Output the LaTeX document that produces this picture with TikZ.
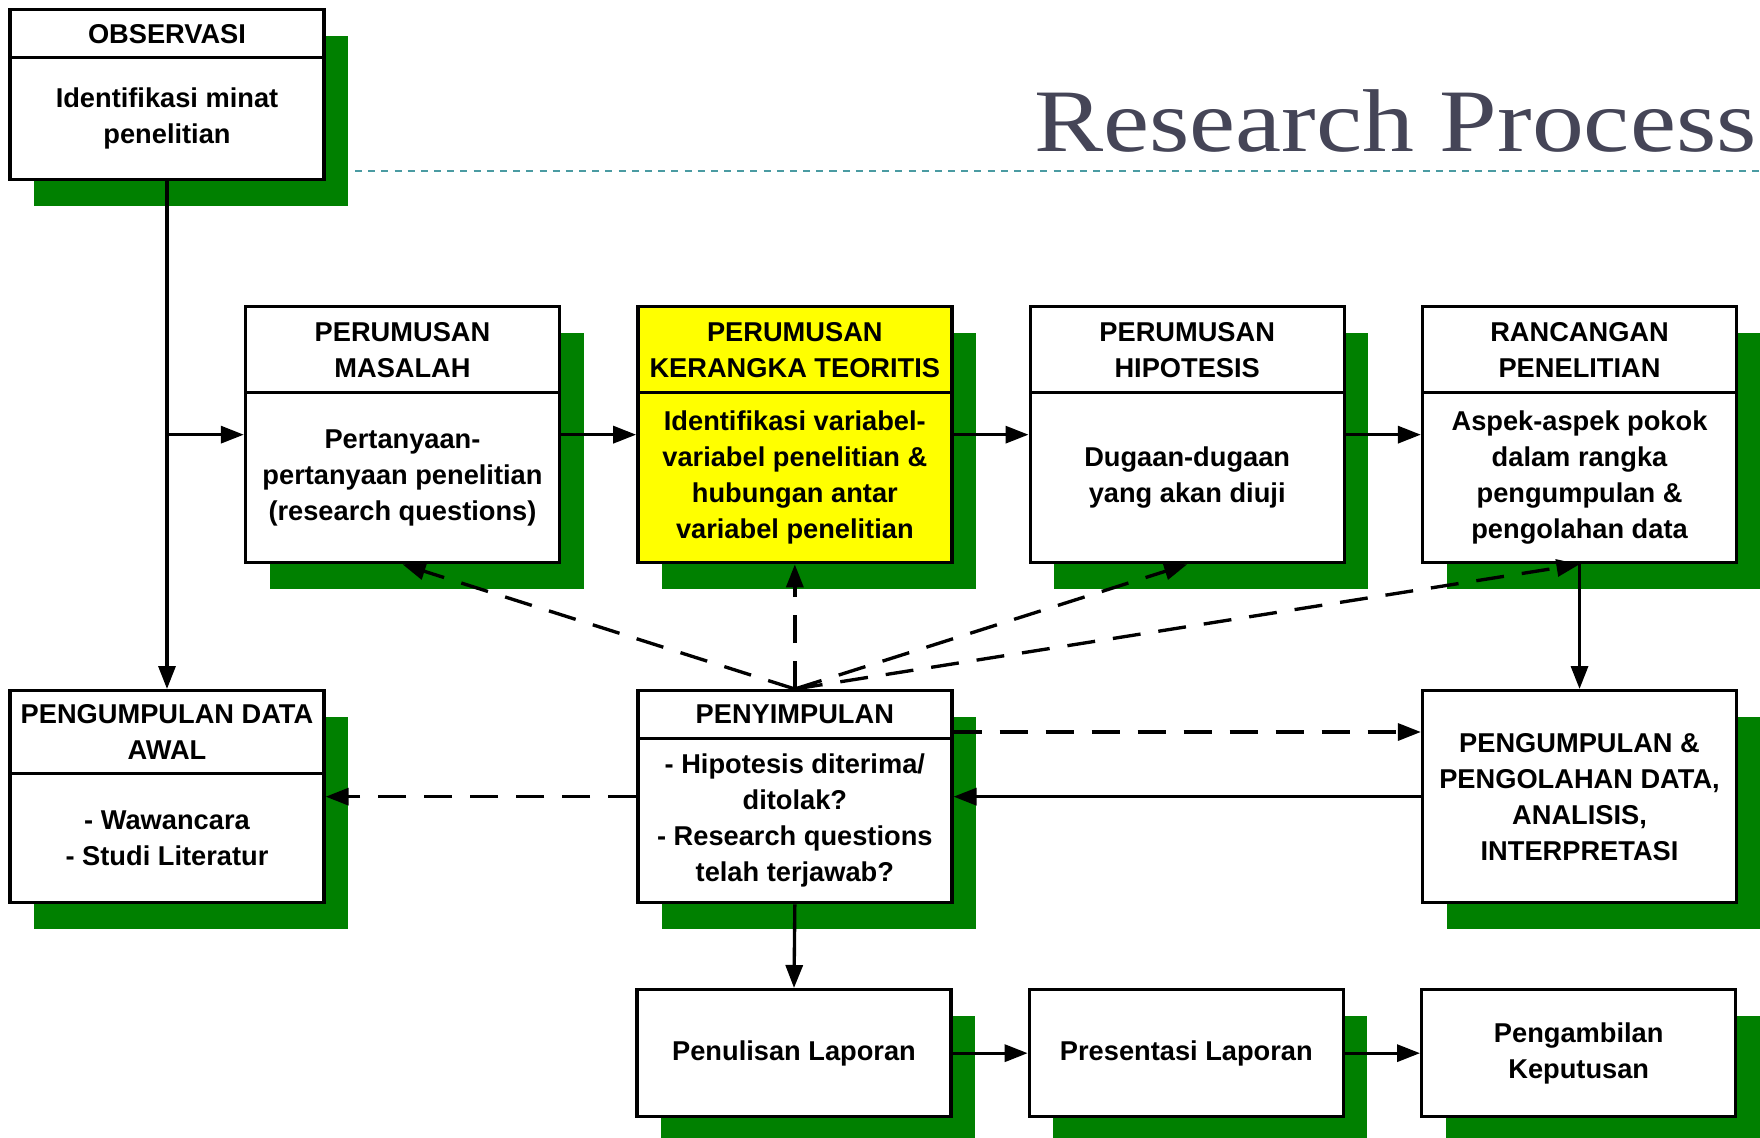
\documentclass[tikz,border=0pt]{standalone}
\usepackage{graphicx}
\usepackage{fontspec}
\setmainfont{Liberation Sans}
\newfontfamily\titlefont{Liberation Serif}
\usetikzlibrary{positioning, arrows.meta, shadows}
\definecolor{shade}{HTML}{008000}
\definecolor{hilite}{HTML}{FFFF00}
\definecolor{titleink}{HTML}{454557}
\definecolor{rulink}{HTML}{4A9BA2}
\tikzset{
  hdr/.style  = {rectangle, draw=black, line width=1.9pt, fill=white,
                 minimum width=6.28cm, inner sep=2pt, align=center,
                 font=\fontsize{15.5}{20.5}\selectfont\bfseries,
                 drop shadow={shadow xshift=0.48cm, shadow yshift=-0.52cm,
                              fill=shade, opacity=1}},
  bdy/.style  = {hdr, below=-1.9pt of #1},
  arr/.style  = {-{Triangle[length=0.46cm,width=0.34cm]}, line width=1.9pt},
  darr/.style = {arr, dash pattern=on 0.56cm off 0.36cm},
}

\begin{document}
\begin{tikzpicture}[node distance=0.5cm and 1.5cm]
  \useasboundingbox (0,0) rectangle (35.2,-22.76);

  % title
  \node[anchor=base east, inner sep=0pt, text=titleink,
        font=\titlefont\fontsize{59}{59}\selectfont] (ttl) at (35.14,-3.04)
        {\scalebox{1}[0.86]{Research Process}};
  \draw[rulink, line width=0.8pt, dash pattern=on 4pt off 3.5pt] (7.1,-3.42) -- (35.2,-3.42);

  % top left
  \node[hdr, minimum height=0.96cm, anchor=north] (obsh) at (3.34,-0.16) {OBSERVASI};
  \node[bdy=obsh, minimum height=2.44cm] (obsb) {Identifikasi minat\\penelitian};

  % second row
  \node[hdr, minimum height=1.72cm, anchor=north] (mslhh) at (8.05,-6.10) {PERUMUSAN\\MASALAH};
  \node[bdy=mslhh, minimum height=3.40cm] (mslhb) {Pertanyaan-\\pertanyaan penelitian\\(research questions)};
  \node[hdr, minimum height=1.72cm, fill=hilite, right=of mslhh] (kerh) {PERUMUSAN\\KERANGKA TEORITIS};
  \node[bdy=kerh, minimum height=3.40cm, fill=hilite] (kerb) {Identifikasi variabel-\\variabel penelitian \&\\hubungan antar\\variabel penelitian};
  \node[hdr, minimum height=1.72cm, right=of kerh] (hiph) {PERUMUSAN\\HIPOTESIS};
  \node[bdy=hiph, minimum height=3.40cm] (hipb) {Dugaan-dugaan\\yang akan diuji};
  \node[hdr, minimum height=1.72cm, right=of hiph] (ranch) {RANCANGAN\\PENELITIAN};
  \node[bdy=ranch, minimum height=3.40cm] (rancb) {Aspek-aspek pokok\\dalam rangka\\pengumpulan \&\\pengolahan data};

  % third row
  \node[hdr, minimum height=1.66cm, anchor=north] (awalh) at (3.34,-13.78) {PENGUMPULAN DATA\\AWAL};
  \node[bdy=awalh, minimum height=2.58cm] (awalb) {- Wawancara\\- Studi Literatur};
  \node[hdr, minimum height=0.96cm, anchor=north] (simph) at (kerh.south |- awalh.north) {PENYIMPULAN};
  \node[bdy=simph, minimum height=3.28cm] (simpb) {- Hipotesis diterima/\\ditolak?\\- Research questions\\telah terjawab?};
  \node[hdr, minimum height=4.24cm, anchor=north] (olah) at (ranch.south |- awalh.north) {PENGUMPULAN \&\\PENGOLAHAN DATA,\\ANALISIS,\\INTERPRETASI};

  % bottom row
  \node[hdr, minimum height=2.54cm, anchor=north] (tulis) at (15.88,-19.76) {Penulisan Laporan};
  \node[hdr, minimum height=2.54cm, right=of tulis] (saji) {Presentasi Laporan};
  \node[hdr, minimum height=2.54cm, right=of saji] (putus) {Pengambilan\\Keputusan};

  % solid flow
  \path ([yshift=0.86cm]mslhb.west) coordinate (lvl);
  \draw[arr] (obsb.south) -- (awalh.north);
  \draw[arr] (lvl -| obsb.south) -- (lvl);
  \draw[arr] (lvl -| mslhb.east) -- (lvl -| kerb.west);
  \draw[arr] (lvl -| kerb.east) -- (lvl -| hipb.west);
  \draw[arr] (lvl -| hipb.east) -- (lvl -| rancb.west);
  \draw[arr] (rancb.south) -- (olah.north);
  \draw[arr] (olah.west) -- (olah.west -| simpb.east);
  \draw[arr] (simpb.south) -- (tulis.north);
  \draw[arr] (tulis) -- (saji);
  \draw[arr] (saji) -- (putus);

  % dashed feedback
  \path ([yshift=-0.86cm]olah.north west) coordinate (dlvl);
  \draw[darr] (dlvl -| simpb.east) -- (dlvl);
  \draw[darr] (olah.west -| simpb.west) -- (olah.west -| awalb.east);
  \foreach \dst in {mslhb, kerb, hipb, rancb}
    \draw[darr] (simph.north) -- (\dst.south);

\end{tikzpicture}
\end{document}
